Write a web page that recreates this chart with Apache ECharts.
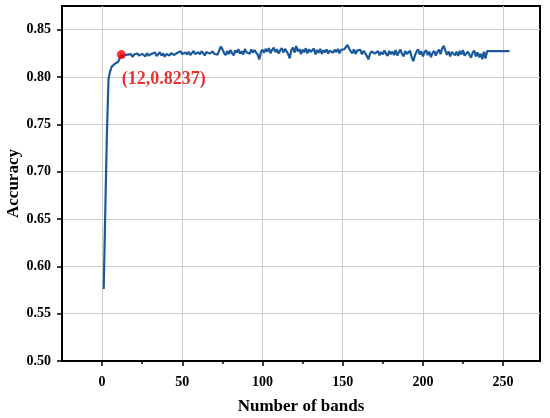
<!DOCTYPE html>
<html><head><meta charset="utf-8">
<script src="https://cdn.jsdelivr.net/npm/echarts@6/dist/echarts.min.js"></script>
<style>html,body{margin:0;padding:0;background:#fff}#c{width:550px;height:418px}</style>
</head><body><div id="c"></div>
<script>
// Accuracy for number of bands 1..254
const accuracy = [
0.576,0.660,0.740,0.798,0.806,0.811,0.809,0.814,0.812,0.816,0.817,0.8237,
0.8208,0.8231,0.8214,0.8236,0.8219,0.8241,0.8212,0.8238,
0.8221,0.8249,0.8226,0.8209,0.8244,0.8232,0.8218,0.8251,0.8227,0.8212,
0.8246,0.8229,0.8258,0.8221,0.8239,0.8262,0.8226,0.8248,0.8214,0.8243,
0.8258,0.8228,0.8251,0.8267,0.8233,0.8219,0.8256,0.8238,0.8271,0.8242,
0.8226,0.8259,0.8237,0.8266,0.8231,0.8249,0.8276,0.8242,0.8224,0.8261,
0.8239,0.8273,0.8251,0.8228,0.8264,0.8281,0.8247,0.8235,0.8269,0.8243,
0.8258,0.8236,0.8279,0.8322,0.8294,0.8256,0.8231,0.8274,0.8241,0.8286,
0.8252,0.8229,0.8281,0.8259,0.8293,0.8248,0.8271,0.8238,0.8296,0.8262,
0.8277,0.8244,0.8291,0.8258,0.8284,0.8301,0.8236,0.8185,0.8262,0.8289,
0.8256,0.8298,0.8268,0.8305,0.8251,0.8287,0.8309,0.8263,0.8292,0.8247,
0.8281,0.8304,0.8259,0.8296,0.8272,0.8242,0.8198,0.8287,0.8311,0.8258,
0.8326,0.8271,0.8295,0.8242,0.8289,0.8261,0.8304,0.8249,0.8291,0.8264,
0.8251,0.8302,0.8238,0.8286,0.8255,0.8297,0.8243,0.8284,0.8261,0.8293,
0.8248,0.8279,0.8299,0.8256,0.8288,0.8264,0.8296,0.8251,0.8287,0.8268,
0.8293,0.8311,0.8338,0.8302,0.8271,0.8249,0.8291,0.8244,0.8279,0.8258,
0.8288,0.8239,0.8276,0.8251,0.8224,0.8186,0.8243,0.8271,0.8282,0.8247,
0.8236,0.8273,0.8229,0.8264,0.8238,0.8281,0.8246,0.8224,0.8276,0.8241,
0.8268,0.8232,0.8284,0.8228,0.8261,0.8289,0.8241,0.8219,0.8273,0.8244,
0.8229,0.8276,0.8208,0.8168,0.8226,0.8267,0.8291,0.8238,0.8272,0.8218,
0.8261,0.8283,0.8231,0.8269,0.8209,0.8252,0.8277,0.8226,0.8263,0.8288,
0.8241,0.8302,0.8328,0.8279,0.8234,0.8271,0.8218,0.8264,0.8281,0.8229,
0.8268,0.8222,0.8276,0.8238,0.8285,0.8226,0.8212,0.8266,0.8235,0.8204,
0.8256,0.8279,0.8218,0.8261,0.8209,0.8246,0.8188,0.8267,0.8196,0.8273,
0.8273,0.8273,0.8273,0.8273,0.8273,0.8273,0.8273,0.8273,0.8273,0.8273,0.8273,0.8273,0.8273,0.8273
];
const firstBand = 1;
const markBand = 12;
const markAcc = 0.8237;
const xTickLabels = [0, 50, 100, 150, 200, 250];
const xMinorTicks = [25, 75, 125, 175, 225];
const yTickLabels = [0.50, 0.55, 0.60, 0.65, 0.70, 0.75, 0.80, 0.85];

const lineData = accuracy.map((v, i) => [firstBand + i, v]);

const font = 'Liberation Serif';
const chart = echarts.init(document.getElementById('c'), null, {renderer: 'canvas'});
chart.setOption({
  animation: false,
  backgroundColor: '#fff',
  grid: {left: 62, right: 10, top: 6, bottom: 57, show: true, borderColor: '#000', borderWidth: 2,
    containLabel: false, outerBoundsMode: 'none'},
  xAxis: [{
    type: 'value', min: -25, max: 273,
    axisLine: {show: true, onZero: false, lineStyle: {color: '#000', width: 2}},
    axisTick: {show: true, customValues: xTickLabels, length: 5, lineStyle: {color: '#000', width: 1.5}},
    axisLabel: {customValues: xTickLabels, margin: 14, color: '#000', fontFamily: font, fontWeight: 'bold', fontSize: 14},
    splitLine: {show: true, lineStyle: {color: '#cccccc', width: 1}},
    name: 'Number of bands', nameLocation: 'middle', nameGap: 37, nameMoveOverlap: false,
    nameTextStyle: {color: '#000', fontFamily: font, fontWeight: 'bold', fontSize: 17}
  }, {
    type: 'value', min: -25, max: 273, position: 'bottom', offset: 0,
    axisLine: {show: false},
    axisTick: {show: true, customValues: xMinorTicks, length: 3, lineStyle: {color: '#000', width: 1.5}},
    axisLabel: {show: false},
    splitLine: {show: false}
  }],
  yAxis: {
    type: 'value', min: 0.5, max: 0.875,
    axisLine: {show: true, onZero: false, lineStyle: {color: '#000', width: 2}},
    axisTick: {show: true, customValues: yTickLabels, length: 5, lineStyle: {color: '#000', width: 1.5}},
    axisLabel: {customValues: yTickLabels, margin: 11, color: '#000', fontFamily: font, fontWeight: 'bold', fontSize: 14,
      formatter: v => v.toFixed(2)},
    splitLine: {show: true, lineStyle: {color: '#cccccc', width: 1}},
    name: 'Accuracy', nameLocation: 'middle', nameGap: 40, nameMoveOverlap: false,
    nameTextStyle: {color: '#000', fontFamily: font, fontWeight: 'bold', fontSize: 17}
  },
  series: [{
    type: 'line', data: lineData, showSymbol: false, xAxisIndex: 0,
    lineStyle: {color: '#1a5a9c', width: 2.2}, z: 2
  }, {
    type: 'scatter', data: [[markBand, markAcc]], xAxisIndex: 0, symbolSize: 9,
    itemStyle: {color: '#ff0000'}, z: 3,
    label: {show: true, position: [5, 29], align: 'left', verticalAlign: 'middle',
      formatter: '(' + markBand + ',' + markAcc + ')',
      color: '#dd0000', fontFamily: font, fontWeight: 'bold', fontSize: 18}
  }]
});
</script></body></html>
